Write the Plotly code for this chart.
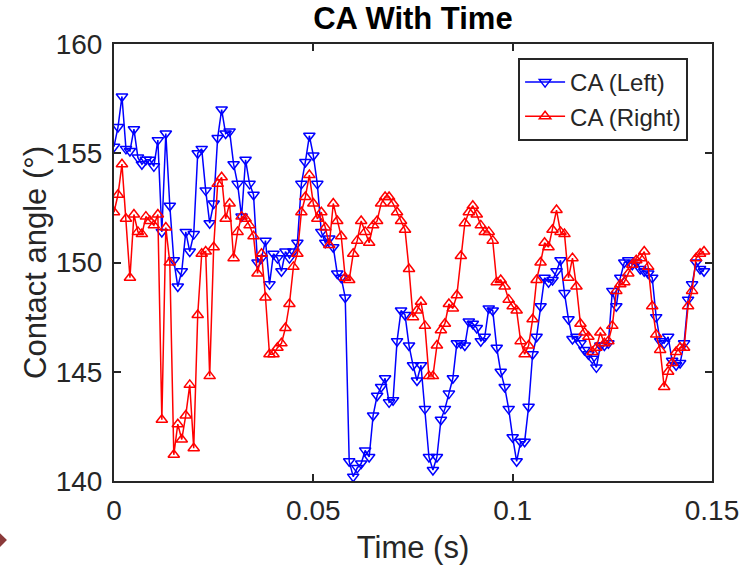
import numpy as np
import plotly.graph_objects as go

# contact angle (deg), one sample per frame, frame interval 1 ms
ca_left = [
    155.3, 156.2, 157.6, 155.2, 155.1, 156.1, 154.8, 154.5, 154.7, 154.7,
    154.4, 155.6, 151.4, 155.9, 152.6, 150.1, 148.9, 149.6, 151.4, 150.5,
    151.3, 155.0, 155.2, 153.3, 151.8, 152.7, 155.7, 157.0, 155.9, 156.0,
    154.5, 153.6, 152.1, 154.7, 153.6, 153.1, 150.0, 150.2, 151.0, 149.0,
    150.4, 150.2, 149.6, 150.5, 150.2, 150.5, 150.9, 153.6, 154.6, 155.8,
    154.9, 153.6, 151.4, 150.9, 151.1, 150.7, 149.5, 149.3, 148.4, 140.9,
    140.2, 140.6, 140.8, 141.4, 141.1, 143.0, 143.9, 144.3, 144.7, 143.6,
    143.7, 146.4, 147.8, 147.6, 146.2, 145.3, 144.6, 145.3, 143.3, 141.1,
    140.5, 141.1, 142.8, 143.3, 144.0, 144.7, 146.3, 146.3, 146.2, 147.3,
    147.2, 147.0, 146.4, 146.6, 147.9, 147.8, 146.1, 145.0, 144.3, 143.3,
    142.0, 140.9, 141.8, 141.8, 143.4, 145.8, 146.6, 148.0, 149.3, 149.1,
    149.2, 149.6, 150.1, 148.6, 147.4, 146.5, 146.6, 146.3, 146.0, 145.8,
    145.6, 145.2, 146.2, 146.2, 146.3, 148.7, 148.0, 149.3, 150.0, 150.1,
    149.9, 150.0, 149.7, 149.6, 149.5, 149.3, 147.5, 146.4, 146.3, 146.6,
    145.5, 145.3, 145.4, 146.3, 148.3, 149.0, 150.0, 149.7, 149.6,
]
ca_right = [
    152.3, 153.1, 154.5, 152.0, 149.3, 152.2, 151.4, 151.3, 152.1, 151.9,
    151.7, 152.2, 142.8, 151.6, 150.0, 141.2, 142.6, 141.9, 143.0, 144.4,
    141.5, 147.6, 150.4, 150.5, 144.8, 150.7, 153.6, 153.9, 152.0, 152.7,
    150.2, 151.4, 152.1, 152.0, 151.7, 151.2, 149.5, 150.4, 148.4, 145.8,
    145.8, 146.1, 146.3, 147.0, 148.1, 149.8, 150.4, 152.3, 153.0, 154.0,
    152.7, 152.0, 152.3, 151.6, 150.8, 152.7, 151.9, 151.2, 149.3, 149.2,
    150.4, 151.0, 151.9, 151.4, 150.9, 151.7, 151.9, 152.7, 153.0, 153.0,
    152.7, 152.3, 151.9, 151.5, 149.7, 147.5, 147.8, 148.2, 147.1, 144.8,
    144.8, 146.2, 146.9, 147.2, 148.1, 147.9, 148.5, 150.3, 151.8, 152.3,
    152.6, 152.2, 151.7, 151.4, 151.4, 151.0, 149.1, 149.2, 148.9, 148.3,
    148.0, 147.8, 146.4, 145.8, 146.2, 147.4, 149.2, 150.0, 150.9, 150.7,
    151.5, 152.4, 151.4, 151.3, 149.3, 150.2, 148.9, 147.2, 146.8, 146.6,
    145.9, 146.1, 146.8, 146.3, 146.4, 147.1, 148.7, 149.0, 149.1, 149.5,
    149.9, 150.1, 150.2, 150.5, 149.8, 148.0, 146.7, 146.0, 144.3, 145.0,
    145.4, 145.9, 146.1, 146.1, 148.0, 148.7, 150.2, 150.4, 150.5,
]
frame_dt = 0.001
x_ticks = [0, 0.05, 0.1, 0.15]
y_ticks = [140, 145, 150, 155, 160]

t_left = np.arange(len(ca_left)) * frame_dt
t_right = np.arange(len(ca_right)) * frame_dt

FONT = "Liberation Sans, Arial"
AX = "#262626"

fig = go.Figure()
fig.add_trace(go.Scatter(
    x=t_left, y=ca_left, mode="lines+markers", name="CA (Left)",
    line=dict(color="#0000FF", width=1.5),
    marker=dict(symbol="triangle-down-open", size=10, color="#0000FF",
                line=dict(width=1.5, color="#0000FF")),
))
fig.add_trace(go.Scatter(
    x=t_right, y=ca_right, mode="lines+markers", name="CA (Right)",
    line=dict(color="#FF0000", width=1.5),
    marker=dict(symbol="triangle-up-open", size=10, color="#FF0000",
                line=dict(width=1.5, color="#FF0000")),
))

axis_common = dict(
    showgrid=False, zeroline=False, showline=True, mirror="ticks",
    linecolor=AX, linewidth=2, ticks="inside", ticklen=7, tickwidth=1.5,
    tickcolor=AX, tickfont=dict(size=28, color=AX, family=FONT),
    automargin=False,
)

fig.update_xaxes(
    range=[0, 0.15], tickvals=x_ticks, ticktext=["0", "0.05", "0.1", "0.15"],
    ticklabelstandoff=3,
    title=dict(text="Time (s)", font=dict(size=31, color=AX, family=FONT),
               standoff=12),
    **axis_common,
)
fig.update_yaxes(
    range=[140, 160], tickvals=y_ticks, ticklabelstandoff=4,
    title=dict(text="Contact angle (°)", font=dict(size=31, color=AX, family=FONT),
               standoff=0),
    **axis_common,
)

# small brown marker cut off at the left edge of the screenshot
fig.add_shape(
    type="path", xref="paper", yref="paper",
    path="M -0.209,-0.135 L -0.194,-0.115 L -0.179,-0.135 L -0.194,-0.156 Z",
    fillcolor="#8B3A3A", line=dict(width=0),
)

fig.update_layout(
    width=744, height=566,
    margin=dict(l=114, r=32, t=44, b=85),
    paper_bgcolor="white", plot_bgcolor="white",
    font=dict(family=FONT, color=AX),
    title=dict(text="<b>CA With Time</b>", x=0.555, xanchor="center",
               y=0.968, yanchor="middle", yref="container",
               font=dict(size=31, color="black", family=FONT)),
    legend=dict(
        x=0.96, xanchor="right", y=0.968, yanchor="top",
        bordercolor=AX, borderwidth=2, bgcolor="white",
        font=dict(size=24, color=AX, family=FONT),
        tracegroupgap=0, itemwidth=40,
    ),
    showlegend=True,
)

# drop the browser's default body margin so the figure fills the window
fig.write_html("out.html", config={"displayModeBar": False},
               post_script="document.body.style.margin = '0';")
